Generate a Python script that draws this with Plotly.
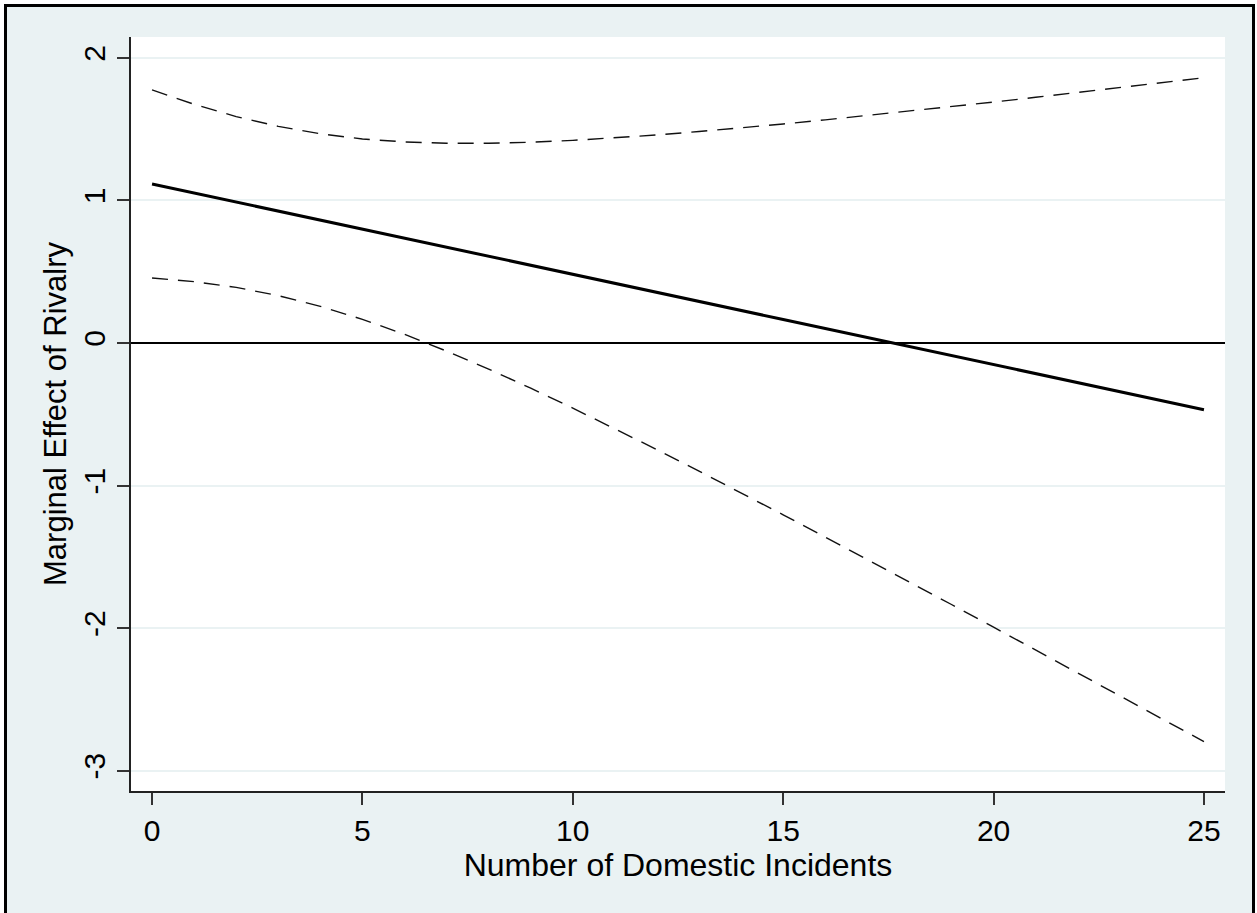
import plotly.graph_objects as go

# Data
incidents = list(range(0, 26))
marginal_effect = [1.115, 1.052, 0.989, 0.926, 0.862, 0.799, 0.736, 0.672, 0.609, 0.545,
                   0.482, 0.419, 0.355, 0.292, 0.229, 0.165, 0.102, 0.039, -0.025, -0.088,
                   -0.151, -0.215, -0.278, -0.341, -0.405, -0.468]
upper_ci = [1.775, 1.674, 1.588, 1.519, 1.467, 1.431, 1.410, 1.401, 1.401, 1.408,
            1.421, 1.438, 1.459, 1.483, 1.508, 1.536, 1.565, 1.595, 1.626, 1.658,
            1.690, 1.723, 1.757, 1.791, 1.825, 1.860]
lower_ci = [0.456, 0.430, 0.390, 0.332, 0.257, 0.166, 0.061, -0.057, -0.183, -0.317,
            -0.457, -0.601, -0.748, -0.899, -1.051, -1.205, -1.361, -1.517, -1.675, -1.834,
            -1.993, -2.153, -2.313, -2.474, -2.635, -2.796]
x_ticks = [0, 5, 10, 15, 20, 25]
y_ticks = [-3, -2, -1, 0, 1, 2]
y_tick_text = ["-3", "-2", "-1", "0", "1", "2"]

W, H = 1257, 913
ML, MR, MT, MB = 131, 32, 37, 122
PW, PH = W - ML - MR, H - MT - MB
BG = "#EAF2F3"
FONT = "Liberation Sans, Arial, sans-serif"

fig = go.Figure()
fig.add_trace(go.Scatter(x=incidents, y=upper_ci, mode="lines",
                         line=dict(color="#111", width=1.4, dash="16px,10px"),
                         showlegend=False))
fig.add_trace(go.Scatter(x=incidents, y=lower_ci, mode="lines",
                         line=dict(color="#111", width=1.4, dash="16px,10px"),
                         showlegend=False))
fig.add_trace(go.Scatter(x=incidents, y=marginal_effect, mode="lines",
                         line=dict(color="black", width=3), showlegend=False))


def px_x(p):
    return (p - ML) / PW


def px_y(p):
    return (H - MB - p) / PH


# outer graph region (light background with black frame)
fig.add_shape(type="rect", xref="paper", yref="paper",
              x0=px_x(5.5), x1=px_x(1253.5), y0=px_y(935), y1=px_y(5.5),
              line=dict(color="black", width=3), fillcolor=BG, layer="below")
# white plot region
fig.add_shape(type="rect", xref="paper", yref="paper",
              x0=0, x1=1, y0=0, y1=1,
              line=dict(width=0), fillcolor="white", layer="below")

fig.update_layout(
    width=W, height=H, autosize=False,
    margin=dict(l=ML, r=MR, t=MT, b=MB, pad=0),
    paper_bgcolor="white", plot_bgcolor="white",
    font=dict(family=FONT, size=30, color="black"),
    xaxis=dict(range=[-0.5, 25.5], tickvals=x_ticks, ticks="outside", ticklen=12,
               tickwidth=1.5, tickcolor="#333", showline=True, linecolor="#222",
               linewidth=1.5, showgrid=False, zeroline=False,
               tickfont=dict(size=30, family=FONT),
               title=dict(text="Number of Domestic Incidents", font=dict(size=32, family=FONT),
                          standoff=0)),
    yaxis=dict(range=[-3.142, 2.146], tickvals=y_ticks, ticktext=y_tick_text,
               ticks="outside", ticklen=12,
               tickwidth=1.5, tickcolor="#333", showline=True, linecolor="#222",
               linewidth=1.5, showgrid=True, gridcolor=BG, gridwidth=2,
               zeroline=True, zerolinecolor="black", zerolinewidth=2,
               tickangle=-90, tickfont=dict(size=30, family=FONT),
               title=dict(text="Marginal Effect of Rivalry", font=dict(size=31, family=FONT),
                          standoff=2)),
)

fig.write_html("out.html")
